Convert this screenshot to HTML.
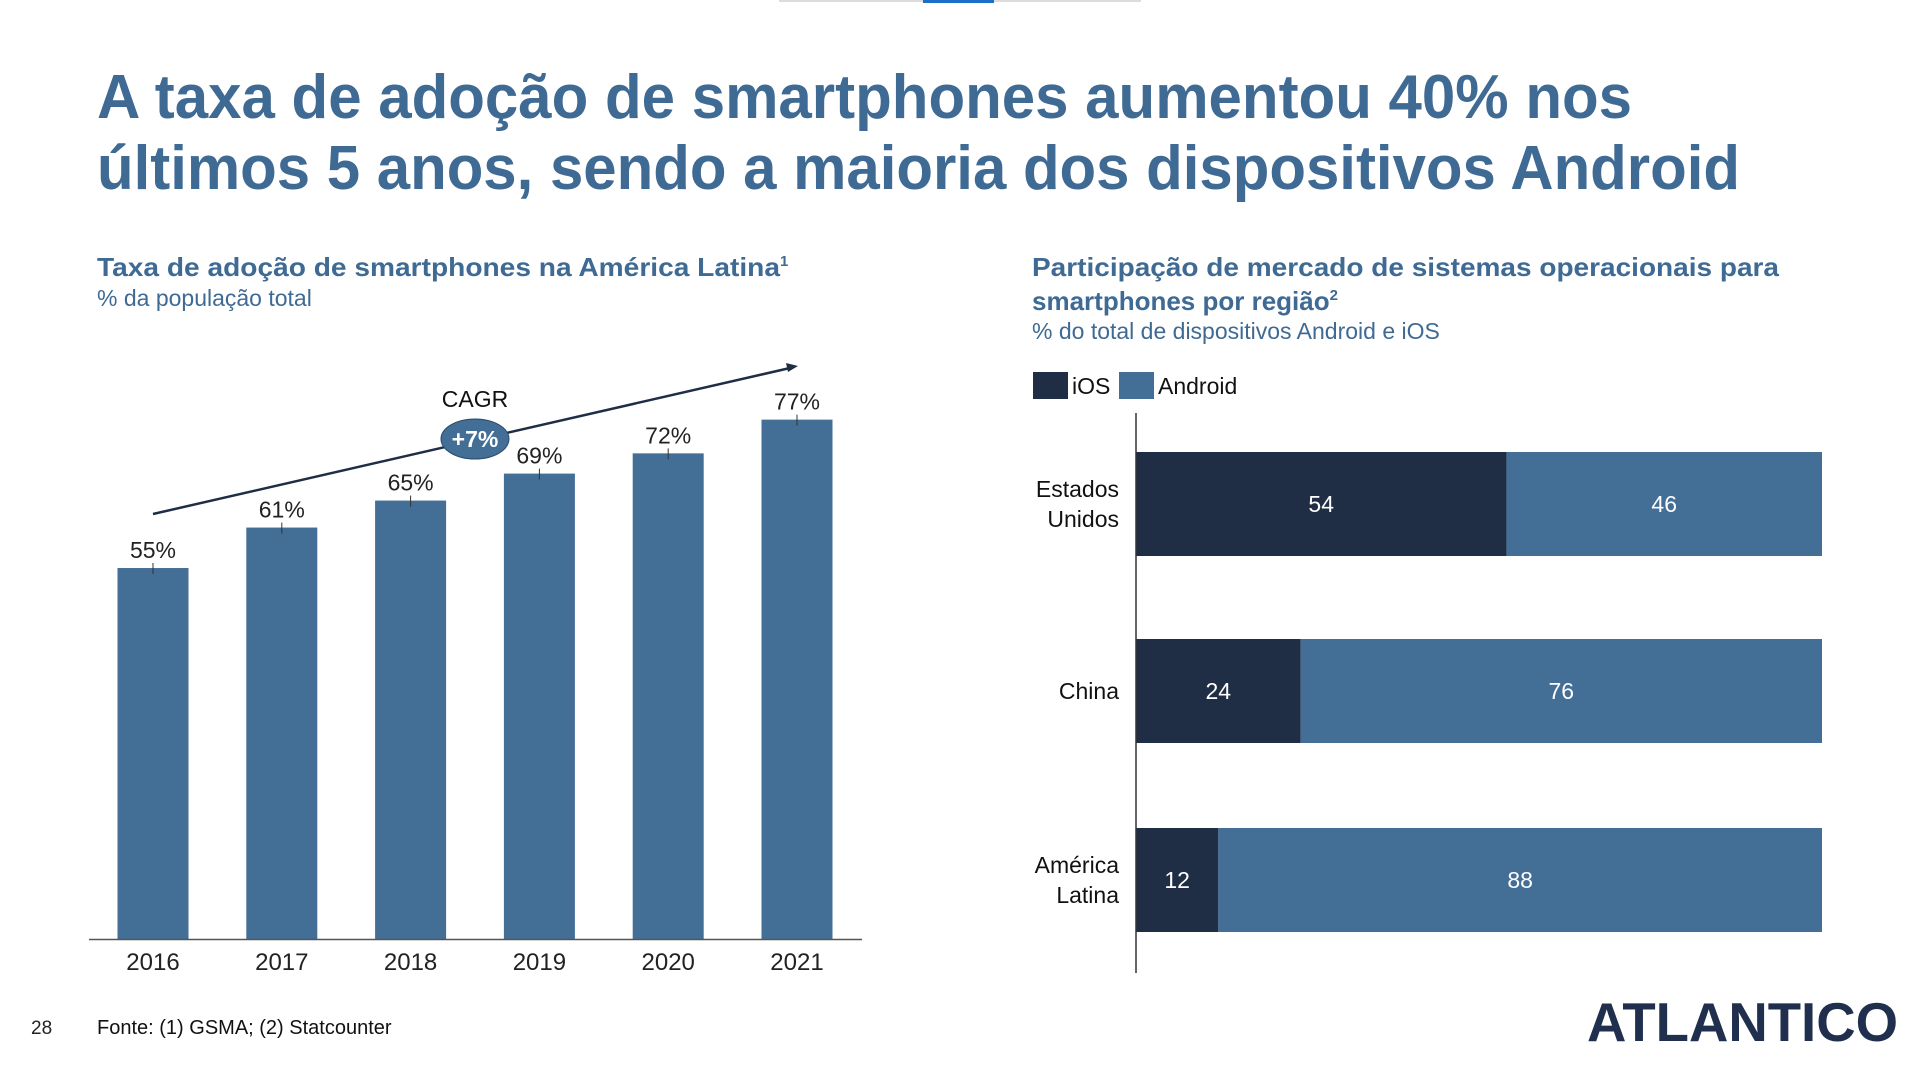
<!DOCTYPE html>
<html><head><meta charset="utf-8"><style>
html,body{margin:0;padding:0;background:#fff;}
svg{display:block;font-family:"Liberation Sans",Arial,sans-serif;}
</style></head><body>
<svg id="chart" width="1920" height="1080" viewBox="0 0 1920 1080">
<rect x="779" y="0" width="362" height="2" fill="#dcdcdc"/>
<rect x="923" y="0" width="71" height="3" fill="#1b6fc9"/>
<text x="97" y="118" font-size="62" font-weight="bold" fill="#3f6a94" textLength="1535" lengthAdjust="spacingAndGlyphs">A taxa de adoção de smartphones aumentou 40% nos</text>
<text x="97" y="189" font-size="62" font-weight="bold" fill="#3f6a94" textLength="1643" lengthAdjust="spacingAndGlyphs">últimos 5 anos, sendo a maioria dos dispositivos Android</text>
<text x="97" y="276" font-size="26" font-weight="bold" fill="#3f6a94"><tspan textLength="683" lengthAdjust="spacingAndGlyphs">Taxa de adoção de smartphones na América Latina</tspan><tspan font-size="15" dy="-10">1</tspan></text>
<text x="97" y="306" font-size="23" fill="#3f6a94">% da população total</text>
<text x="1032" y="276" font-size="26" font-weight="bold" fill="#3f6a94" textLength="747" lengthAdjust="spacingAndGlyphs">Participação de mercado de sistemas operacionais para</text>
<text x="1032" y="310" font-size="26" font-weight="bold" fill="#3f6a94">smartphones por região<tspan font-size="15" dy="-10">2</tspan></text>
<text x="1032" y="339" font-size="23" fill="#3f6a94">% do total de dispositivos Android e iOS</text>
<g id="left"></g>
<g id="right"></g>
<text x="31" y="1034" font-size="19" fill="#222">28</text>
<text x="97" y="1034" font-size="20" fill="#111">Fonte: (1) GSMA; (2) Statcounter</text>
<text x="1587" y="1041" font-size="55" font-weight="bold" fill="#1f2f4d" textLength="311" lengthAdjust="spacingAndGlyphs">ATLANTICO</text>
</svg>
<script>
const years = ['2016','2017','2018','2019','2020','2021'];
const adoption = [55,61,65,69,72,77];
const regions = [['Estados','Unidos'],['China'],['América','Latina']];
const iosShare = [54,24,12];
const androidShare = [46,76,88];
const NS='http://www.w3.org/2000/svg';
function mk(tag,attrs,parent,txt){const e=document.createElementNS(NS,tag);for(const k in attrs)e.setAttribute(k,attrs[k]);if(txt!==undefined)e.textContent=txt;parent.appendChild(e);return e;}
const L=document.getElementById('left');
const base=939, yScale=v=>base-v*6.745, xC=i=>153+i*128.8;
years.forEach((y,i)=>{
  const top=yScale(adoption[i]);
  const b=mk('rect',{x:xC(i)-35.5,y:top,width:71,height:base-top,fill:'#436e96'},L);
  
  
  const t=mk('line',{x1:xC(i),x2:xC(i),y1:top-5,y2:top+6,stroke:'#333','stroke-width':1},L);
  
  
  const v=mk('text',{x:xC(i),y:top-10,'font-size':23,'text-anchor':'middle',fill:'#222'},L,adoption[i]+'%');
  
  
  const xl=mk('text',{x:xC(i),y:970,'font-size':24,'text-anchor':'middle',fill:'#222'},L,y);
  
  
});
const ax=mk('line',{x1:89,x2:862,y1:939.5,y2:939.5,stroke:'#555','stroke-width':1.5},L);


const ar=mk('line',{x1:153,y1:514,x2:790,y2:368,stroke:'#1f2d45','stroke-width':2.5},L);


const ah=mk('polygon',{points:'798,366 786,363 788,372',fill:'#1f2d45'},L);


const cg=mk('text',{x:475,y:407,'font-size':23,'text-anchor':'middle',fill:'#111'},L,'CAGR');


const el=mk('ellipse',{cx:475,cy:439,rx:34,ry:20,fill:'#436e96',stroke:'#2a4a6a','stroke-width':1},L);


const et=mk('text',{x:475,y:447,'font-size':23,'font-weight':'bold','text-anchor':'middle',fill:'#fff'},L,'+7%');



const R=document.getElementById('right');
const x0=1136, W=686, xS=v=>v/100*W, rowY=[452,639,828], bh=104;
const lg1=mk('rect',{x:1033,y:372,width:35,height:27,fill:'#1f2d45'},R);


const lt1=mk('text',{x:1072,y:394,'font-size':23,fill:'#111'},R,'iOS');


const lg2=mk('rect',{x:1119,y:372,width:35,height:27,fill:'#436e96'},R);


const lt2=mk('text',{x:1158,y:394,'font-size':23,fill:'#111'},R,'Android');


regions.forEach((r,i)=>{
  const y=rowY[i], wi=xS(iosShare[i]), wa=xS(androidShare[i]);
  const a=mk('rect',{x:x0,y:y,width:wi,height:bh,fill:'#1f2d45'},R);
  
  
  const b=mk('rect',{x:x0+wi,y:y,width:wa,height:bh,fill:'#436e96'},R);
  
  
  const t1=mk('text',{x:x0+wi/2,y:y+bh/2+8,'font-size':23,'text-anchor':'middle',fill:'#fff'},R,iosShare[i]);
  
  
  const t2=mk('text',{x:x0+wi+wa/2,y:y+bh/2+8,'font-size':23,'text-anchor':'middle',fill:'#fff'},R,androidShare[i]);
  
  
  const n=r.length, cy=y+bh/2+8;
  r.forEach((ln,j)=>{
    const c=mk('text',{x:1119,y:cy+(j-(n-1)/2)*30,'font-size':23,'text-anchor':'end',fill:'#111'},R,ln);
    
    
  });
});
const ya=mk('line',{x1:1136,x2:1136,y1:413,y2:973,stroke:'#333','stroke-width':1.5},R);


</script>
</body></html>
